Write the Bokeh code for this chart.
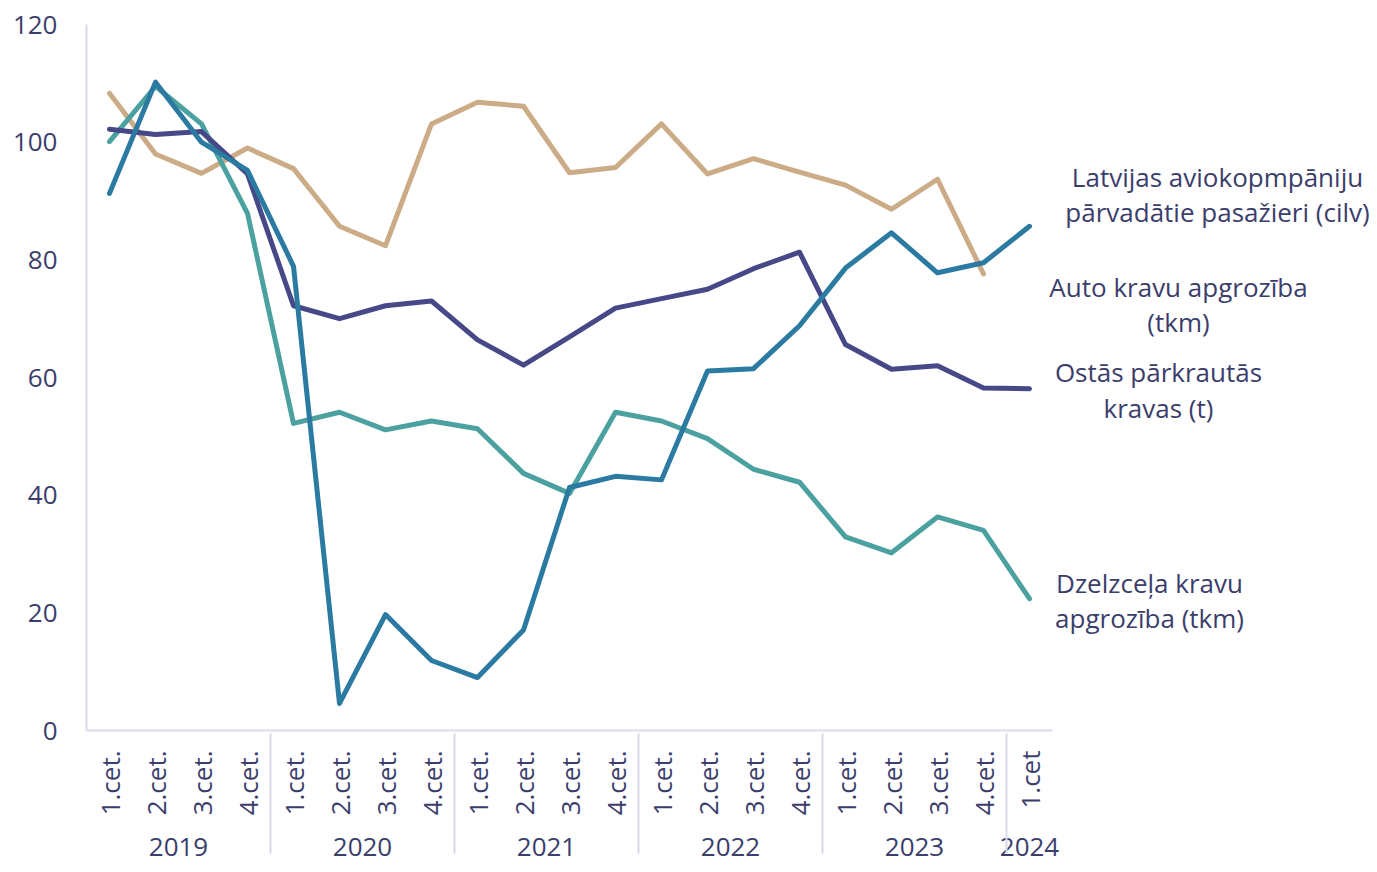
import math
from bokeh.plotting import figure
from bokeh.layouts import row
from bokeh.models import FactorRange, Range1d, FixedTicker
from bokeh.core.properties import value
from bokeh.embed import file_html
from bokeh.resources import INLINE

years = ["2019"] * 4 + ["2020"] * 4 + ["2021"] * 4 + ["2022"] * 4 + ["2023"] * 4 + ["2024"]
quarters = ["1.cet.", "2.cet.", "3.cet.", "4.cet."] * 5 + ["1.cet"]
factors = list(zip(years, quarters))

aviation = [108.3, 98.0, 94.7, 99.0, 95.5, 85.7, 82.4, 103.1, 106.8, 106.1,
            94.8, 95.7, 103.1, 94.6, 97.2, 94.9, 92.7, 88.6, 93.7, 77.6]
rail = [100.1, 109.5, 103.1, 87.9, 52.2, 54.1, 51.1, 52.6, 51.3, 43.7,
        40.3, 54.1, 52.6, 49.6, 44.4, 42.2, 32.9, 30.2, 36.3, 34.0, 22.4]
ports = [102.2, 101.3, 101.8, 94.6, 72.2, 70.0, 72.2, 73.0, 66.4, 62.1,
         66.9, 71.8, 73.4, 75.0, 78.5, 81.3, 65.6, 61.4, 62.0, 58.2, 58.1]
road = [91.3, 110.2, 100.0, 95.2, 78.9, 4.6, 19.7, 11.9, 9.0, 17.1,
        41.3, 43.2, 42.6, 61.1, 61.5, 68.8, 78.6, 84.6, 77.8, 79.5, 85.7]

y_ticks = [0, 20, 40, 60, 80, 100, 120]

series_labels = [
    ["Latvijas aviokopmpāniju", "pārvadātie pasažieri (cilv)"],
    ["Auto kravu apgrozība", "(tkm)"],
    ["Ostās pārkrautās", "kravas (t)"],
    ["Dzelzceļa kravu", "apgrozība (tkm)"],
]

TEXT = "#3B3E6B"
AXIS = "#D9DAEB"
FONT = "Open Sans"
FS = "26px"

y_range = Range1d(0, 120)

p = figure(
    frame_width=966, frame_height=706,
    x_range=FactorRange(*factors, factor_padding=0, subgroup_padding=0,
                        group_padding=0, range_padding=0),
    y_range=y_range,
    output_backend="svg", toolbar_location=None,
    min_border_left=86, min_border_top=24, min_border_right=10, min_border_bottom=142,
)
p.outline_line_color = None
p.xgrid.grid_line_color = None
p.ygrid.grid_line_color = None

p.line(factors[:len(aviation)], aviation, color="#CBAC87", line_width=5, line_join="round", line_cap="round")
p.line(factors, rail, color="#4BA19F", line_width=5, line_join="round", line_cap="round")
p.line(factors, ports, color="#464887", line_width=5, line_join="round", line_cap="round")
p.line(factors, road, color="#2A7AA2", line_width=5, line_join="round", line_cap="round")

# y axis
p.yaxis.ticker = FixedTicker(ticks=y_ticks)
p.yaxis.major_tick_line_color = None
p.yaxis.major_tick_out = 0
p.yaxis.major_tick_in = 0
p.yaxis.minor_tick_line_color = None
p.yaxis.minor_tick_out = 0
p.yaxis.axis_line_color = AXIS
p.yaxis.axis_line_width = 2
p.yaxis.major_label_standoff = 29
p.yaxis.major_label_text_font = FONT
p.yaxis.major_label_text_font_size = FS
p.yaxis.major_label_text_color = TEXT

# x axis
p.xaxis.major_tick_line_color = None
p.xaxis.major_tick_out = 0
p.xaxis.major_tick_in = 0
p.xaxis.axis_line_color = AXIS
p.xaxis.axis_line_width = 2
p.xaxis.separator_line_color = AXIS
p.xaxis.separator_line_width = 2
p.xaxis.major_label_orientation = math.pi / 2
p.xaxis.major_label_standoff = 20
p.xaxis.major_label_text_font = FONT
p.xaxis.major_label_text_font_size = FS
p.xaxis.major_label_text_color = TEXT
p.xaxis.group_text_font = FONT
p.xaxis.group_text_font_size = FS
p.xaxis.group_text_color = TEXT
p.xaxis.group_text_font_style = "normal"

# right-hand series labels panel (same y scale), overlapping the main plot slightly
p2 = figure(
    frame_width=337, frame_height=706,
    x_range=Range1d(1040, 1377), y_range=y_range,
    output_backend="svg", toolbar_location=None,
    min_border_left=0, min_border_right=0, min_border_top=24, min_border_bottom=142,
)
p2.outline_line_color = None
p2.grid.grid_line_color = None
p2.axis.visible = False
p2.background_fill_color = None
p2.border_fill_color = None
p2.margin = (0, 0, 0, -22)

lx = [1217, 1178, 1158, 1149]
ly = [(94.0, 88.05), (75.3, 69.35), (60.85, 54.9), (24.99, 19.04)]
tx, ty, tt = [], [], []
for (l1, l2), x, (y1, y2) in zip(series_labels, lx, ly):
    tx += [x, x]
    ty += [y1, y2]
    tt += [l1, l2]
p2.text(x=tx, y=ty, text=tt, text_align="center", text_baseline="middle",
        text_font=value(FONT), text_font_size=FS, text_color=TEXT)

layout = row(p, p2, spacing=0)
open("out.html", "w").write(file_html(layout, INLINE))
